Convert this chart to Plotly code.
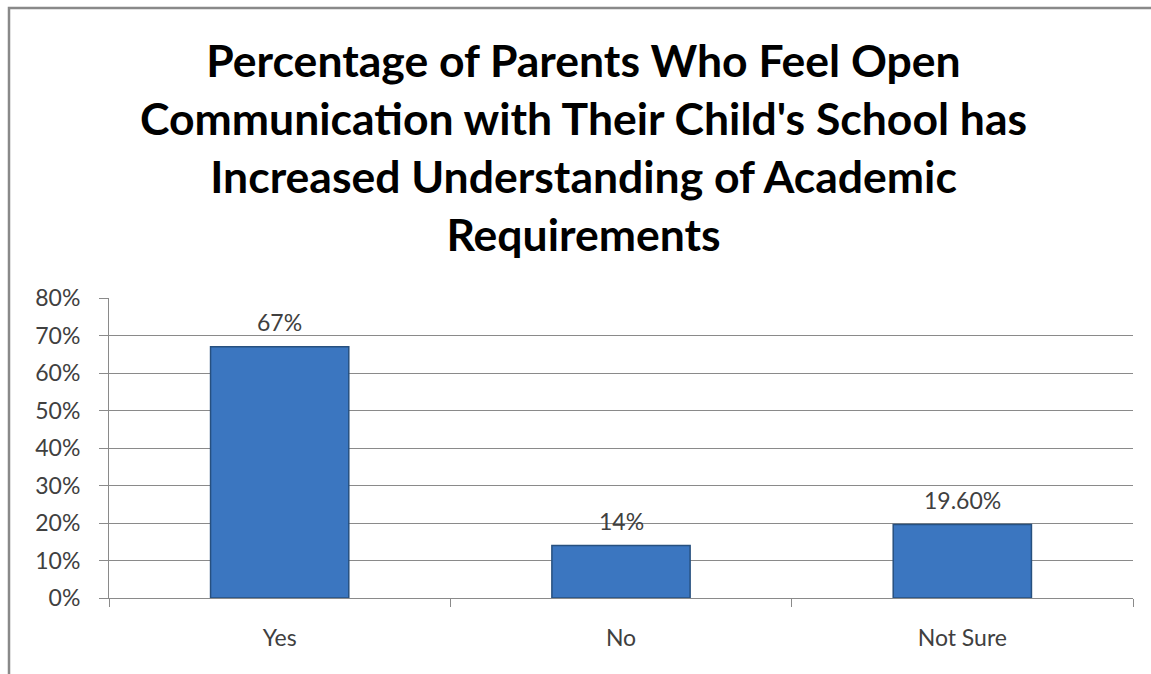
import plotly.graph_objects as go

categories = ["Yes", "No", "Not Sure"]
values = [0.67, 0.14, 0.196]
value_labels = ["67%", "14%", "19.60%"]
title_lines = [
    "Percentage of Parents Who Feel Open",
    "Communication with Their Child's School has",
    "Increased Understanding of Academic",
    "Requirements",
]

W, H = 1151, 674
ml, mr, mt, mb = 109, 18, 298, 76
pw = W - ml - mr
ph = H - mt - mb

FONT = "Lato"
TXT = "#404040"
GRID = "#8a8a8a"

fig = go.Figure()
fig.add_trace(go.Bar(
    x=categories,
    y=values,
    marker=dict(color="#3b76c0", line=dict(color="#27507f", width=1.5)),
    width=0.405,
    hoverinfo="skip",
))

# value labels above bars
for c, v, t in zip(categories, values, value_labels):
    fig.add_annotation(
        x=c, y=v, xref="x", yref="y", text=t, showarrow=False,
        yanchor="bottom", yshift=9,
        font=dict(family=FONT, size=23, color=TXT),
    )

# title
fig.add_annotation(
    xref="paper", yref="paper",
    x=(583 - ml) / pw, y=(H - mb - 147) / ph,
    xanchor="center", yanchor="middle",
    text="<br>".join(title_lines), showarrow=False,
    font=dict(family=FONT, size=44.5, color="#000000", weight="bold"),
)

fig.update_layout(
    width=W, height=H,
    margin=dict(l=ml, r=mr, t=mt, b=mb),
    paper_bgcolor="white",
    plot_bgcolor="white",
    showlegend=False,
    font=dict(family=FONT, size=23, color=TXT),
)

fig.update_yaxes(
    range=[0, 0.8], dtick=0.1, tickformat=".0%",
    showgrid=True, gridcolor=GRID, gridwidth=1,
    showline=True, linecolor=GRID, linewidth=1,
    ticks="outside", ticklen=9, tickcolor=GRID,
    ticklabelstandoff=14,
    zeroline=False,
    tickfont=dict(family=FONT, size=23, color=TXT),
)
fig.update_xaxes(
    type="category",
    tickson="boundaries",
    ticks="outside", ticklen=8, tickcolor=GRID,
    showline=True, linecolor=GRID, linewidth=1,
    showgrid=False,
    ticklabelstandoff=19,
    tickfont=dict(family=FONT, size=23, color=TXT),
)

# outer chart frame (partially cropped in the reference)
fig.add_shape(
    type="rect", xref="paper", yref="paper",
    x0=(9 - ml) / pw, x1=(W + 40 - ml) / pw,
    y0=(H - mb - (H + 40)) / ph, y1=(H - mb - 8) / ph,
    line=dict(color="#898989", width=2.5),
    fillcolor="rgba(0,0,0,0)", layer="below",
)

fig.write_html(
    "out.html",
    config={"displayModeBar": False, "staticPlot": True},
    post_script="document.body.style.margin='0';document.body.style.overflow='hidden';",
)
